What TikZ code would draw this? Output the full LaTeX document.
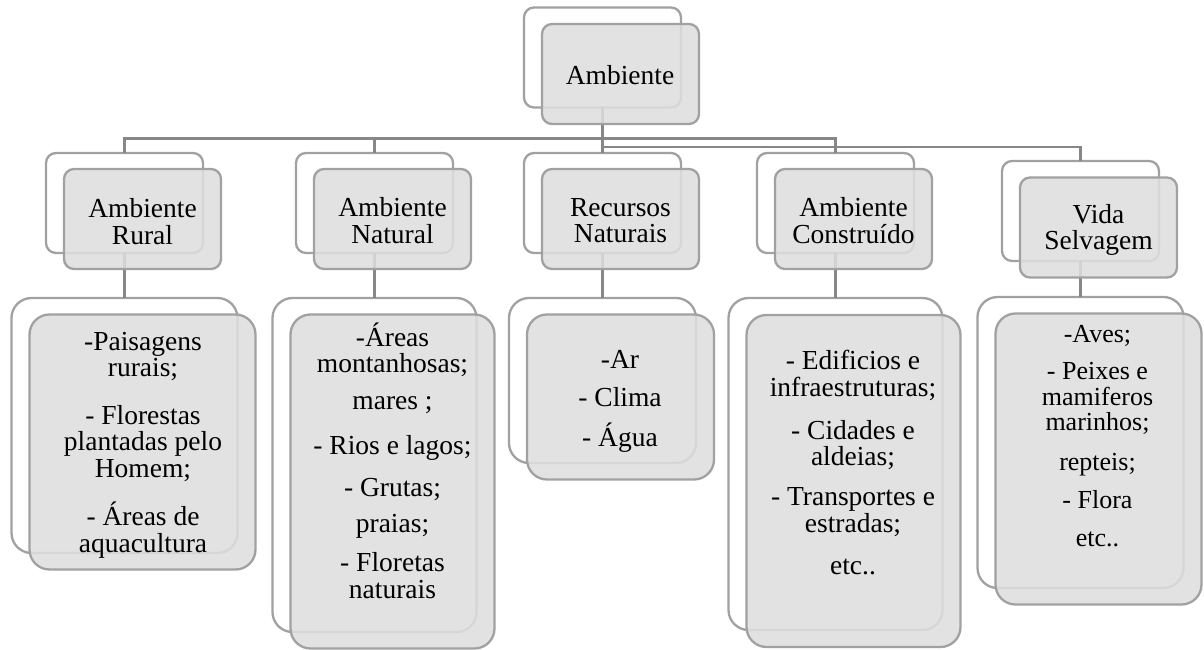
\documentclass[tikz,border=0pt]{standalone}
\usepackage{fontspec}
\setmainfont{Liberation Serif}
\begin{document}
\begin{tikzpicture}[x=1pt,y=-1pt,
  backbox/.style={draw=black!37, line width=2.3pt, fill=white,
    rounded corners=#1, inner sep=0pt, outer sep=0pt},
  backbox/.default=10pt,
  frontbox/.style={draw=black!37, line width=2.3pt, fill=black!13,
    fill opacity=0.87, draw opacity=1, rounded corners=#1,
    inner sep=0pt, outer sep=0pt},
  frontbox/.default=10pt,
  small/.style={minimum width=157pt, minimum height=100pt},
  conn/.style={draw=black!47, line width=2.3pt},
  txt/.style={align=center, inner sep=0pt, text=black,
    font=\fontsize{27.5pt}{26.5pt}\selectfont},
  txtsm/.style={txt, font=\fontsize{26pt}{25.5pt}\selectfont}
]
\path[use as bounding box] (0,0) rectangle (1204,650);

% ---- back shapes ----
\node[backbox, small] (b0) at (602.5,57.5) {};
\node[backbox, small] (b1) at (124.5,203) {};
\node[backbox, small] (b2) at (374.5,203) {};
\node[backbox, small] (b3) at (602.5,203) {};
\node[backbox, small] (b4) at (835.5,203) {};
\node[backbox, small] (b5) at (1080.5,211) {};

\node[backbox=20pt, minimum width=226pt, minimum height=255pt] (c1) at (124.5,425.5) {};
\node[backbox=20pt, minimum width=204pt, minimum height=334pt] (c2) at (374.5,465) {};
\node[backbox=20pt, minimum width=187pt, minimum height=165pt] (c3) at (602.5,380.5) {};
\node[backbox=20pt, minimum width=214pt, minimum height=332pt] (c4) at (835.5,464) {};
\node[backbox=20pt, minimum width=206pt, minimum height=291pt] (c5) at (1080.5,442.5) {};

% ---- connectors ----
\coordinate (bus) at (602.5,138.5);
\coordinate (bus2) at (602.5,146.7);
\draw[conn] (b0.south) -- (bus2);
\draw[conn] (bus) -| (b1.north);
\draw[conn] (bus) -| (b2.north);
\draw[conn] (bus) -- (b3.north);
\draw[conn] (bus) -| (b4.north);
\draw[conn] (bus2) -| (b5.north);
\foreach \i in {1,...,5} {\draw[conn] (b\i.south) -- (c\i.north);}

% ---- front shapes ----
\node[frontbox, small] (f0) at (620.5,74) {};
\node[frontbox, small] (f1) at (142.5,219) {};
\node[frontbox, small] (f2) at (392.5,219) {};
\node[frontbox, small] (f3) at (620.5,219) {};
\node[frontbox, small] (f4) at (853.5,219) {};
\node[frontbox, small] (f5) at (1098.5,227.5) {};

\node[frontbox=20pt, minimum width=226pt, minimum height=255pt] (g1) at (142.5,442) {};
\node[frontbox=20pt, minimum width=204pt, minimum height=334pt] (g2) at (392.5,481.5) {};
\node[frontbox=20pt, minimum width=187pt, minimum height=165pt] (g3) at (620.5,397) {};
\node[frontbox=20pt, minimum width=214pt, minimum height=332pt] (g4) at (853.5,481) {};
\node[frontbox=20pt, minimum width=206pt, minimum height=291pt] (g5) at (1098.5,459) {};

% ---- texts ----
\node[txt] (t0) at (620,75) {Ambiente};
\node[txt] (t1) at (142.5,221.5) {Ambiente\\Rural};
\node[txt] (t2) at (392.5,220.5) {Ambiente\\Natural};
\node[txt] (t3) at (620.5,220.5) {Recursos\\Naturais};
\node[txt] (t4) at (853.5,220.5) {Ambiente\\Construído};
\node[txt] (t5) at (1098.5,230) {Vida\\Selvagem};

\node[txt] (u1) at (143,445) {-Paisagens\\rurais;\\[21pt]- Florestas\\plantadas pelo\\Homem;\\[20pt]- Áreas de\\aquacultura};
\node[txt] (u2) at (392.5,460.5) {-Áreas\\montanhosas;\\[10.5pt]mares ;\\[18.5pt]- Rios e lagos;\\[15.5pt]- Grutas;\\[9.5pt]praias;\\[12.5pt]- Floretas\\naturais};
\node[txt] (u3) at (620,401.5) {-Ar\\[11.5pt]- Clima\\[13.5pt]- Água};
\node[txt] (u4) at (853,462.5) {- Edificios e\\infraestruturas;\\[16.5pt]- Cidades e\\aldeias;\\[13.5pt]- Transportes e\\estradas;\\[15.5pt]etc..};
\node[txtsm] (u5) at (1097.5,436.5) {-Aves;\\[11.5pt]- Peixes e\\mamiferos\\marinhos;\\[14.5pt]repteis;\\[12.5pt]- Flora\\[12.5pt]etc..};
\end{tikzpicture}
\end{document}
